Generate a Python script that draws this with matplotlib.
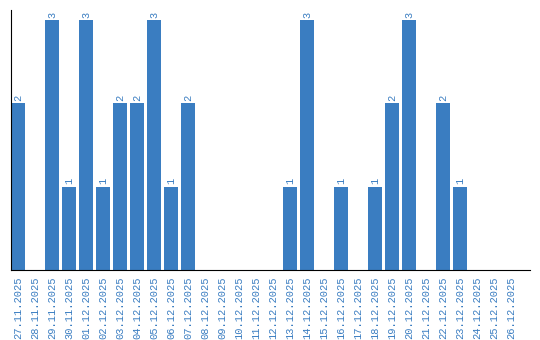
import matplotlib
matplotlib.use("Agg")
import matplotlib.pyplot as plt

dates = ["27.11.2025", "28.11.2025", "29.11.2025", "30.11.2025", "01.12.2025",
         "02.12.2025", "03.12.2025", "04.12.2025", "05.12.2025", "06.12.2025",
         "07.12.2025", "08.12.2025", "09.12.2025", "10.12.2025", "11.12.2025",
         "12.12.2025", "13.12.2025", "14.12.2025", "15.12.2025", "16.12.2025",
         "17.12.2025", "18.12.2025", "19.12.2025", "20.12.2025", "21.12.2025",
         "22.12.2025", "23.12.2025", "24.12.2025", "25.12.2025", "26.12.2025"]
counts = [2, 0, 3, 1, 3, 1, 2, 2, 3, 1, 2, 0, 0, 0, 0,
          0, 1, 3, 0, 1, 0, 1, 2, 3, 0, 2, 1, 0, 0, 0]

blue = "#3a7dc1"
fig = plt.figure(figsize=(5.4, 3.4), dpi=100)
ax = fig.add_axes([10.5/540, 70/340, 519.5/540, 260/340])
x = list(range(len(dates)))
ax.bar(x, counts, width=14/17, color=blue)
for xi, v in zip(x, counts):
    if v > 0:
        ax.text(xi, v + 0.03, str(v), rotation=90, ha="center", va="bottom",
                color=blue, fontsize=7.5, family="Liberation Mono")
ax.set_xlim(-0.44, 30.1)
ax.set_ylim(0, 3.12)
ax.set_xticks(x)
ax.set_xticklabels(dates, rotation=90, color=blue, fontsize=7.5, family="Liberation Mono")
ax.tick_params(axis="x", length=0, pad=5)
ax.set_yticks([])
ax.spines["top"].set_visible(False)
ax.spines["right"].set_visible(False)
ax.spines["left"].set_color("black")
ax.spines["bottom"].set_color("black")
fig.savefig("out.png", dpi=100)
